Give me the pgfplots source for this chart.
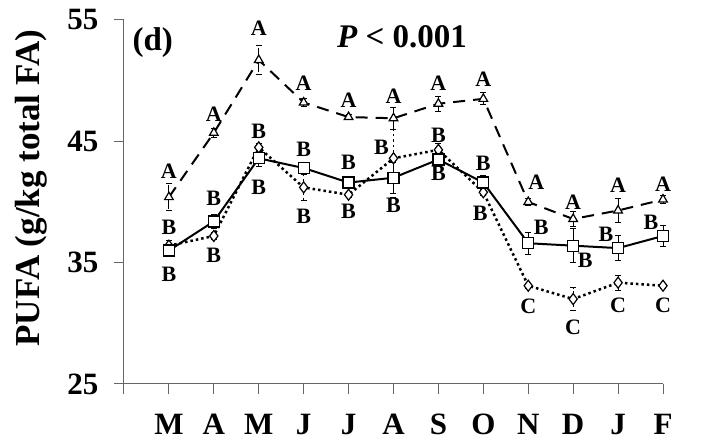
\documentclass[border=0pt]{standalone}
\usepackage{pgfplots}
\usepackage{pgfplotstable}
\pgfplotsset{compat=1.18}
\usepackage{fontspec}
\setmainfont{Liberation Serif}

\pgfplotstableread{
x y e
0 40.4 1.1
1 45.7 0.4
2 51.7 1.2
3 48.2 0.3
4 47.0 0.2
5 46.9 0.9
6 48.1 0.6
7 48.5 0.5
8 40.0 0.3
9 38.6 0.6
10 39.3 1.0
11 40.2 0.3
}\triA

\pgfplotstableread{
x y e
0 36.0 0.5
1 38.4 0.6
2 43.6 0.7
3 42.8 0.4
4 41.6 0.3
5 42.0 1.3
6 43.5 0.6
7 41.6 0.6
8 36.6 0.9
9 36.4 1.4
10 36.2 1.05
11 37.2 0.85
}\sqB

\pgfplotstableread{
x y e
0 36.4 0.4
1 37.2 0.3
2 44.5 0.3
3 41.2 1.1
4 40.6 0.2
5 43.6 3.2
6 44.3 0.5
7 40.8 0.3
8 33.1 0.2
9 32.0 0.95
10 33.35 0.6
11 33.1 0.2
}\diaC

\newcommand{\lab}[3]{\node[font=\fontsize{22}{24}\selectfont\bfseries,inner sep=0pt] at (axis cs:#1,#2) {#3};}

\begin{document}
\begin{tikzpicture}
\begin{axis}[
  scale only axis, width=539pt, height=364pt,
  xmin=-1, xmax=11, ymin=25, ymax=55,
  axis x line=bottom, axis y line=left,
  axis line style={-, black!60, line width=1pt},
  xtick={-1,0,...,11},
  xticklabels={,M,A,M,J,J,A,S,O,N,D,J,F},
  ytick={25,35,45,55},
  tick align=outside,
  major tick length=10pt,
  tick style={black!60, line width=1pt},
  ticklabel style={font=\fontsize{31}{33}\selectfont\bfseries},
  xticklabel style={yshift=-16pt, text height=21pt, text depth=0pt},
  yticklabel style={xshift=-12pt},
  /pgf/number format/assume math mode=true,
  ylabel={PUFA (g/kg total FA)},
  ylabel style={font=\fontsize{35}{37}\selectfont\bfseries, at={(axis description cs:-0.172,0.538)}, anchor=center},
  clip=false,
  error bars/error bar style={black, line width=0.9pt},
  error bars/error mark options={black, rotate=90, mark size=3pt, line width=0.9pt},
]
\coordinate (bl) at (rel axis cs:0,0);

\addplot[black, line width=2pt, dash pattern=on 12pt off 8pt,
  mark=triangle*, mark size=5pt, mark options={solid, fill=white, line width=1.2pt},
  error bars/.cd, y dir=both, y explicit]
  table[x=x, y=y, y error=e] {\triA};

\addplot[black, line width=2.5pt, dash pattern=on 2.5pt off 3pt,
  mark=diamond*, mark size=5.5pt, mark options={solid, fill=white, line width=1.2pt},
  error bars/.cd, y dir=both, y explicit]
  table[x=x, y=y, y error=e] {\diaC};

\addplot[black, line width=2pt,
  mark=square*, mark size=5.5pt, mark options={solid, fill=white, line width=1.2pt},
  error bars/.cd, y dir=both, y explicit]
  table[x=x, y=y, y error=e] {\sqB};

% letters for triangles
\lab{0}{42.5}{A}
\lab{1}{47.2}{A}
\lab{2}{54.3}{A}
\lab{3}{49.8}{A}
\lab{4}{48.4}{A}
\lab{5}{48.7}{A}
\lab{6}{49.8}{A}
\lab{7}{50.1}{A}
\lab{8.18}{41.6}{A}
\lab{9}{40.0}{A}
\lab{10}{41.4}{A}
\lab{11}{41.5}{A}
% letters B / C
\lab{0}{37.9}{B}\lab{0}{34.0}{B}
\lab{1}{40.3}{B}\lab{1}{35.6}{B}
\lab{2}{45.8}{B}\lab{2}{41.2}{B}
\lab{3}{44.3}{B}\lab{3}{38.8}{B}
\lab{4}{43.3}{B}\lab{4}{39.2}{B}
\lab{4.73}{44.5}{B}\lab{5}{39.7}{B}
\lab{6}{45.5}{B}\lab{6}{42.4}{B}
\lab{7}{43.2}{B}\lab{6.93}{39.1}{B}
\lab{8.29}{37.9}{B}\lab{8}{31.4}{C}
\lab{9.27}{35.2}{B}\lab{9}{29.7}{C}
\lab{9.73}{37.3}{B}\lab{10}{31.5}{C}
\lab{10.73}{38.3}{B}\lab{11}{31.5}{C}

\node[font=\fontsize{33}{35}\selectfont\bfseries] at (axis cs:-0.36,53.1) {(d)};
\node[font=\fontsize{33}{35}\selectfont\bfseries] at (axis cs:5.19,53.6) {\textit{P} < 0.001};
\end{axis}
\pgfresetboundingbox
\path (bl) ++(-124pt,-62pt) rectangle ++(702pt,446pt);
\end{tikzpicture}
\end{document}
